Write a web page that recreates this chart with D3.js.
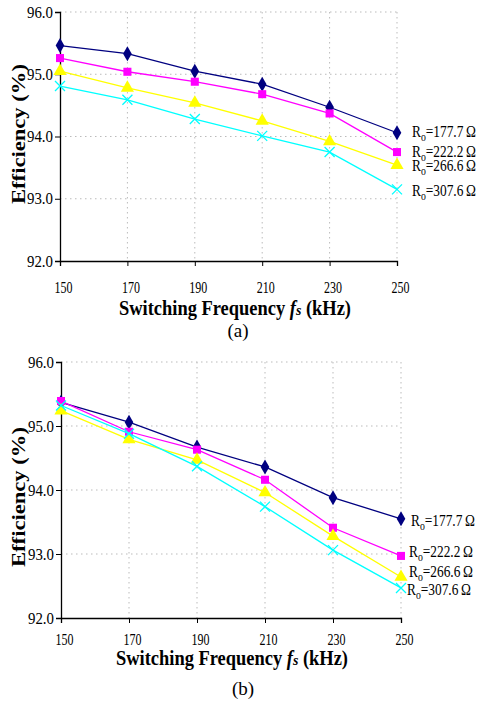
<!DOCTYPE html>
<html>
<head>
<meta charset="utf-8">
<script src="https://cdn.jsdelivr.net/npm/d3@7"></script>
<style>
  body { margin: 0; background: #fff; }
</style>
</head>
<body>
<div id="chart"></div>
<script>
// x categories (kHz) and y ticks
var freqs = [150, 170, 190, 210, 230, 250];
var yTicks = [92, 93, 94, 95, 96];
var loadNames = ["177.7", "222.2", "266.6", "307.6"];

// panel (a) efficiencies, %
var a177 = [95.46, 95.33, 95.05, 94.84, 94.47, 94.06];
var a222 = [95.26, 95.04, 94.88, 94.68, 94.37, 93.75];
var a266 = [95.05, 94.78, 94.54, 94.25, 93.92, 93.54];
var a307 = [94.81, 94.59, 94.28, 94.01, 93.75, 93.15];

// panel (b) efficiencies, %
var b177 = [95.37, 95.06, 94.67, 94.36, 93.88, 93.55];
var b222 = [95.39, 94.91, 94.63, 94.16, 93.41, 92.97];
var b266 = [95.24, 94.79, 94.47, 93.96, 93.28, 92.64];
var b307 = [95.32, 94.88, 94.37, 93.74, 93.06, 92.47];

var colors = ["#000080", "#ff00ff", "#ffff00", "#00ffff"];
var symbols = [d3.symbolDiamond, d3.symbolSquare, d3.symbolTriangle];

var svg = d3.select("#chart").append("svg")
  .attr("width", 478)
  .attr("height", 704);

// layout for the two panels (the source figure is squeezed horizontally,
// so text widths are forced with textLength)
var panels = [
  { series: [a177, a222, a266, a307], x0: 60, x1: 397, yTop: 12, yBot: 261,
    tickY: 293, titleX: 235, titleY: 315, ylabY: 134, caption: "(a)", capX: 238, capY: 337,
    legend: [[412, 137], [412, 157], [412, 171], [412, 196]] },
  { series: [b177, b222, b266, b307], x0: 61, x1: 401, yTop: 362, yBot: 618,
    tickY: 645, titleX: 232, titleY: 665, ylabY: 497, caption: "(b)", capX: 243, capY: 695,
    legend: [[411, 526], [409, 557], [409, 577], [407, 595]] }
];

panels.forEach(function(p) {
  var x = d3.scaleLinear().domain([150, 250]).range([p.x0, p.x1]);
  var y = d3.scaleLinear().domain([92, 96]).range([p.yBot, p.yTop]);
  var g = svg.append("g");

  // dotted grid
  g.selectAll(".gx").data(freqs.slice(1)).enter().append("line")
    .attr("x1", d => x(d)).attr("x2", d => x(d))
    .attr("y1", p.yTop).attr("y2", p.yBot)
    .attr("stroke", "#bbb").attr("stroke-dasharray", "1.5,3.5");
  g.selectAll(".gy").data(yTicks.slice(1)).enter().append("line")
    .attr("x1", p.x0).attr("x2", p.x1)
    .attr("y1", d => y(d)).attr("y2", d => y(d))
    .attr("stroke", "#bbb").attr("stroke-dasharray", "1.5,3.5");

  // axes
  var xAxis = g.append("g")
    .attr("transform", `translate(0, ${p.yBot})`)
    .call(d3.axisBottom(x).tickValues(freqs).tickSize(5).tickFormat(""));
  var yAxis = g.append("g")
    .attr("transform", `translate(${p.x0}, 0)`)
    .call(d3.axisLeft(y).tickValues(yTicks).tickSize(5).tickFormat(d3.format(".1f")));
  [xAxis, yAxis].forEach(function(ax) {
    ax.select(".domain").attr("stroke", "#000").attr("stroke-width", 1.3);
    ax.selectAll(".tick line").attr("stroke", "#000");
  });
  yAxis.selectAll(".tick text")
    .attr("font-size", 16).attr("fill", "#000").attr("x", -7)
    .attr("textLength", 26).attr("lengthAdjust", "spacingAndGlyphs");

  // x tick labels below axis
  g.selectAll(".xl").data(freqs).enter().append("text")
    .attr("x", d => x(d) + 3.5).attr("y", p.tickY)
    .attr("text-anchor", "middle").attr("font-size", 16)
    .attr("textLength", 18).attr("lengthAdjust", "spacingAndGlyphs")
    .text(d => d);

  // axis titles
  var t = g.append("text")
    .attr("x", p.titleX).attr("y", p.titleY)
    .attr("text-anchor", "middle").attr("font-size", 20).attr("font-weight", "bold")
    .attr("textLength", 232).attr("lengthAdjust", "spacingAndGlyphs");
  t.append("tspan").text("Switching Frequency ");
  t.append("tspan").attr("font-style", "italic").text("f");
  t.append("tspan").attr("font-style", "italic").attr("font-size", 15).text("s");
  t.append("tspan").text(" (kHz)");

  g.append("text")
    .attr("transform", `translate(25, ${p.ylabY}) rotate(-90)`)
    .attr("text-anchor", "middle").attr("font-size", 18).attr("font-weight", "bold")
    .attr("textLength", 140).attr("lengthAdjust", "spacingAndGlyphs")
    .text("Efficiency (%)");

  g.append("text")
    .attr("x", p.capX).attr("y", p.capY)
    .attr("text-anchor", "middle").attr("font-size", 19)
    .text(p.caption);

  // series
  var line = d3.line().x((d, i) => x(freqs[i])).y(d => y(d));
  p.series.forEach(function(s, k) {
    g.append("path").datum(s)
      .attr("d", line).attr("fill", "none")
      .attr("stroke", colors[k]).attr("stroke-width", 1.3);
    if (k < 3) {
      g.selectAll(".m" + k).data(s).enter().append("path")
        .attr("transform", (d, i) => `translate(${x(freqs[i])}, ${y(d)})`)
        .attr("d", d3.symbol().type(symbols[k]).size(k == 2 ? 75 : 65))
        .attr("fill", colors[k]);
    } else {
      g.selectAll(".m" + k).data(s).enter().append("path")
        .attr("transform", (d, i) => `translate(${x(freqs[i])}, ${y(d)})`)
        .attr("d", "M-5,-5L5,5M-5,5L5,-5")
        .attr("stroke", colors[k]).attr("stroke-width", 1.3).attr("fill", "none");
    }

    // legend label next to the last point
    var lt = g.append("text")
      .attr("x", p.legend[k][0]).attr("y", p.legend[k][1])
      .attr("font-size", 16.5)
      .attr("textLength", 64).attr("lengthAdjust", "spacingAndGlyphs");
    lt.append("tspan").text("R");
    lt.append("tspan").attr("font-size", 12).attr("dy", 4).text("o");
    lt.append("tspan").attr("dy", -4).text("=" + loadNames[k] + "\u2009Ω");
  });
});

// Times-like face on every label
svg.selectAll("g").attr("font-family", null);
svg.selectAll("text").style("font-family", "'Liberation Serif'");
</script>
</body>
</html>
